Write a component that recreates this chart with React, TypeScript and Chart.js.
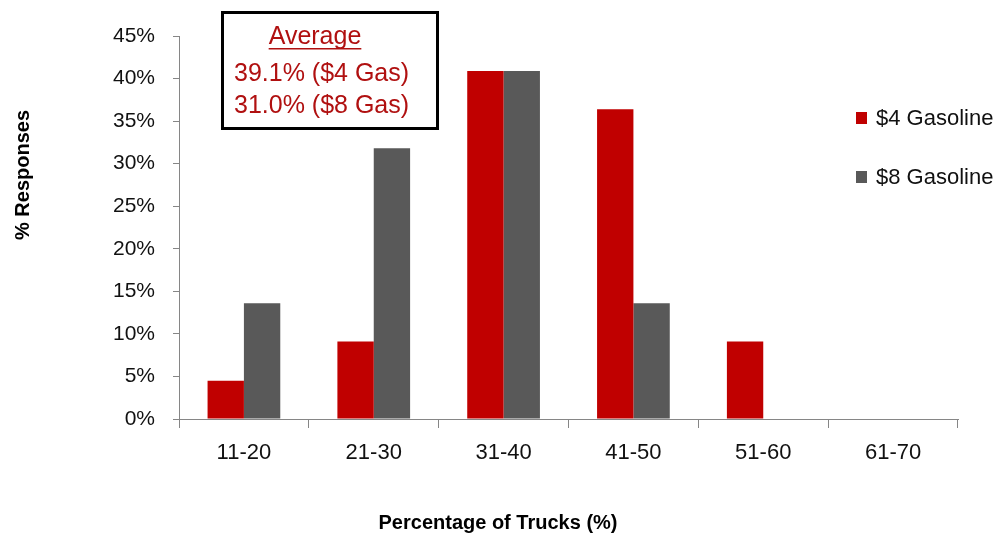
import React, { useEffect, useRef } from "react";
import { Chart, registerables } from "chart.js";

Chart.register(...registerables);

const categories = ["11-20", "21-30", "31-40", "41-50", "51-60", "61-70"];
const gas4Values = [4.5, 9.1, 40.9, 36.4, 9.1, 0];
const gas8Values = [13.6, 31.8, 40.9, 13.6, 0, 0];
const seriesLabels = ["$4 Gasoline", "$8 Gasoline"];
const seriesColors = ["#C00000", "#595959"];
const yMax = 45;
const yStep = 5;
const xTitle = "Percentage of Trucks (%)";
const yTitle = "% Responses";
const averageTitle = "Average";
const averageLines = ["39.1% ($4 Gas)", "31.0% ($8 Gas)"];

const FONT = "'Liberation Sans', Arial, sans-serif";

const overlayPlugin = {
  id: "overlay",
  afterDraw(chart: any) {
    const ctx = chart.ctx as CanvasRenderingContext2D;
    ctx.save();
    // y title
    ctx.fillStyle = "#000";
    ctx.font = `bold 20px ${FONT}`;
    ctx.textAlign = "center";
    ctx.textBaseline = "middle";
    ctx.save();
    ctx.translate(23, 175);
    ctx.rotate(-Math.PI / 2);
    ctx.fillText(yTitle, 0, 0);
    ctx.restore();
    // x title
    ctx.fillText(xTitle, 498, 523);

    // legend
    ctx.font = `22px ${FONT}`;
    ctx.textAlign = "left";
    const legendY = [118, 177];
    chart.data.datasets.forEach((ds: any, i: number) => {
      ctx.fillStyle = ds.backgroundColor;
      ctx.fillRect(856, legendY[i] - 6, 11, 12);
      ctx.fillStyle = "#111";
      ctx.fillText(ds.label, 876, legendY[i] + 1);
    });

    // annotation box
    ctx.strokeStyle = "#000";
    ctx.lineWidth = 3;
    ctx.strokeRect(222.5, 12.5, 215, 116);
    ctx.fillStyle = "#B01010";
    ctx.font = `25px ${FONT}`;
    ctx.textAlign = "center";
    ctx.fillText(averageTitle, 315, 37);
    const w = ctx.measureText(averageTitle).width;
    ctx.fillRect(315 - w / 2, 48, w, 1.5);
    ctx.textAlign = "left";
    ctx.fillText(averageLines[0], 234, 74);
    ctx.fillText(averageLines[1], 234, 106);
    ctx.restore();
  },
};

export default function App() {
  const ref = useRef<HTMLCanvasElement>(null);
  useEffect(() => {
    if (!ref.current) return;
    const chart = new Chart(ref.current, {
      type: "bar",
      data: {
        labels: categories,
        datasets: [
          { label: seriesLabels[0], data: gas4Values, backgroundColor: seriesColors[0], barPercentage: 1, categoryPercentage: 0.56 },
          { label: seriesLabels[1], data: gas8Values, backgroundColor: seriesColors[1], barPercentage: 1, categoryPercentage: 0.56 },
        ],
      },
      options: {
        responsive: false,
        animation: false,
        layout: { padding: { left: 0, right: 45, top: 36, bottom: 0 } },
        plugins: { legend: { display: false }, tooltip: { enabled: false } },
        scales: {
          x: {
            afterFit: (s: any) => { s.height = 120; },
            grid: { display: true, drawOnChartArea: false, offset: true, tickLength: 9, color: "#868686" },
            border: { display: true, color: "#868686" },
            ticks: { font: { family: FONT, size: 22 }, color: "#111", padding: 12, maxRotation: 0 },
          },
          y: {
            min: 0,
            max: yMax,
            afterFit: (s: any) => { s.width = 179; },
            grid: { display: true, drawOnChartArea: false, tickLength: 6, color: "#868686" },
            border: { display: true, color: "#868686" },
            ticks: {
              stepSize: yStep,
              font: { family: FONT, size: 21 },
              color: "#111",
              padding: 18,
              callback: (v: any) => `${v}%`,
            },
          },
        },
      },
      plugins: [overlayPlugin],
    });
    return () => chart.destroy();
  }, []);
  return (
    <div style={{ position: "absolute", left: 0, top: 0, width: 1003, height: 539, background: "#fff" }}>
      <canvas ref={ref} width={1003} height={539} style={{ display: "block" }} />
    </div>
  );
}
